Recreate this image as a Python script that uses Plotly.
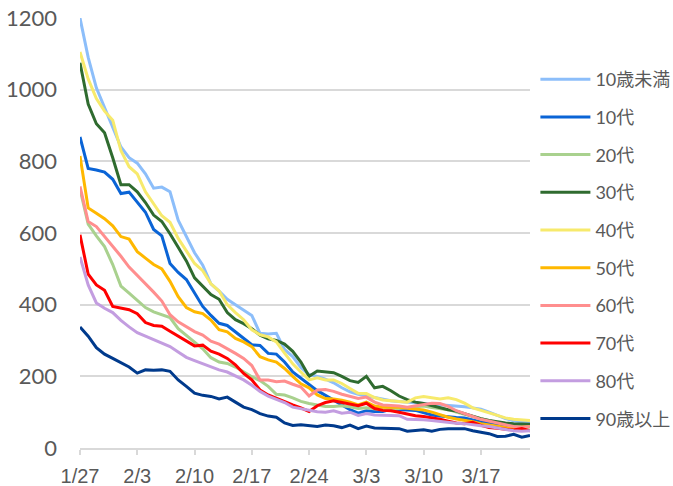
import plotly.graph_objects as go
import pandas as pd

start_date = "2022-01-27"
series_names = ["10歳未満", "10代", "20代", "30代", "40代", "50代", "60代", "70代", "80代", "90歳以上"]

u10 = [1200,1090,1005,950,900,840,810,795,765,725,728,715,636,590,545,510,458,438,415,400,385,370,320,318,320,275,255,225,205,200,192,182,168,157,150,145,140,135,132,130,128,128,126,124,120,118,117,115,112,108,100,90,82,76,72,70]
s10 = [868,780,776,770,750,710,714,686,658,610,592,515,490,470,432,395,370,348,342,324,305,288,286,264,262,240,212,195,177,160,147,133,120,107,97,104,102,102,108,108,106,105,98,92,89,86,85,84,78,73,69,66,63,60,60,62]
s20 = [722,625,592,562,512,452,432,413,392,380,372,364,333,315,295,277,252,240,236,226,213,199,188,172,150,148,140,130,124,119,116,116,118,115,110,112,108,106,108,110,112,115,117,113,110,107,100,95,88,82,76,70,66,62,60,58]
s30 = [1075,960,905,880,810,735,735,715,685,650,632,598,560,522,475,450,428,415,378,358,347,333,315,305,300,290,270,240,200,215,212,210,200,188,183,200,168,172,160,145,135,128,124,118,112,107,103,96,88,82,77,73,70,68,66,66]
s40 = [1105,1030,975,940,915,830,785,765,715,680,648,630,585,550,515,495,458,438,400,378,358,330,316,310,296,265,235,212,190,196,190,190,180,166,153,152,141,134,133,130,128,140,144,140,137,140,135,125,112,105,98,90,84,80,78,77]
s50 = [815,670,655,640,620,590,583,548,530,512,500,465,422,392,380,375,357,330,324,306,296,283,255,246,240,222,200,179,168,148,138,137,133,128,120,128,117,114,114,114,111,108,106,100,92,86,81,78,73,68,64,60,57,56,57,60]
s60 = [730,632,618,590,565,535,505,482,458,435,410,372,352,338,325,315,298,290,278,264,250,230,190,190,185,187,178,170,145,162,163,158,150,143,138,142,128,120,119,117,114,118,122,125,124,116,104,97,88,80,75,68,63,60,58,60]
s70 = [595,485,455,440,395,390,386,375,350,342,340,326,312,300,285,287,270,262,250,232,208,190,162,148,138,130,120,112,102,118,127,132,128,124,118,125,110,105,104,100,95,90,88,85,80,75,70,68,72,63,57,55,53,50,54,48]
s80 = [533,455,405,390,378,356,338,322,312,302,292,283,268,253,244,235,227,218,212,200,190,175,158,145,137,127,114,110,105,101,100,104,97,100,91,96,92,91,91,90,80,80,79,77,74,72,69,68,64,62,60,56,52,48,47,48]
s90 = [338,312,280,262,250,237,226,209,218,217,218,214,190,172,153,147,144,137,142,128,114,107,96,89,86,70,63,65,62,60,64,62,57,64,54,61,56,56,55,54,47,50,51,47,52,54,54,54,48,44,40,32,33,38,30,35]

tick_dates = ["2022-01-27", "2022-02-03", "2022-02-10", "2022-02-17", "2022-02-24", "2022-03-03", "2022-03-10", "2022-03-17"]
tick_labels = ["1/27", "2/3", "2/10", "2/17", "2/24", "3/3", "3/10", "3/17"]
y_ticks = [0, 200, 400, 600, 800, 1000, 1200]

colors = ["#8CBEFA", "#0A64D6", "#A9D18E", "#2F6B2F", "#F7EA6C", "#FFB800", "#FF8E8E", "#FF0000", "#C39DE0", "#003A8C"]

all_series = [u10, s10, s20, s30, s40, s50, s60, s70, s80, s90]
dates = pd.date_range(start=start_date, periods=len(u10))

fig = go.Figure()
for name, vals, col in zip(series_names, all_series, colors):
    fig.add_trace(go.Scatter(
        x=dates, y=vals, name=name, mode="lines",
        line=dict(color=col, width=3),
        legendgroup=name,
    ))

fig.update_layout(
    width=673, height=486,
    margin=dict(l=80, r=143, t=18, b=38, autoexpand=False),
    plot_bgcolor="white", paper_bgcolor="white",
    font=dict(family="Lato, DejaVu Sans, sans-serif", color="#595959"),
    showlegend=True,
    legend=dict(
        x=1.012, xanchor="left", y=0.9, yanchor="top",
        font=dict(size=18, color="#595959", family="Lato, Noto Sans CJK JP, sans-serif"),
        tracegroupgap=11.3,
        itemwidth=50,
        bgcolor="rgba(0,0,0,0)",
    ),
)
fig.update_xaxes(
    range=[dates[0], dates[-1]],
    tickvals=tick_dates, ticktext=tick_labels,
    showgrid=False, showline=True, linecolor="#D9D9D9", linewidth=1.5,
    ticks="outside", ticklen=5, tickcolor="#D9D9D9", tickwidth=1.5,
    tickfont=dict(size=20, color="#595959", family="Liberation Sans Narrow, Arial Narrow, Liberation Sans, sans-serif"),
    ticklabelstandoff=4, automargin=False,
)
fig.update_yaxes(
    range=[0, 1200], tickvals=y_ticks,
    showgrid=True, gridcolor="#D9D9D9", gridwidth=1.5,
    zeroline=False, showline=False,
    tickfont=dict(size=22, color="#595959", family="Lato, DejaVu Sans, sans-serif"),
    ticklabelstandoff=22, automargin=False,
)

fig.write_html("out.html", config={"displayModeBar": False},
               post_script="document.body.style.margin='0';")
